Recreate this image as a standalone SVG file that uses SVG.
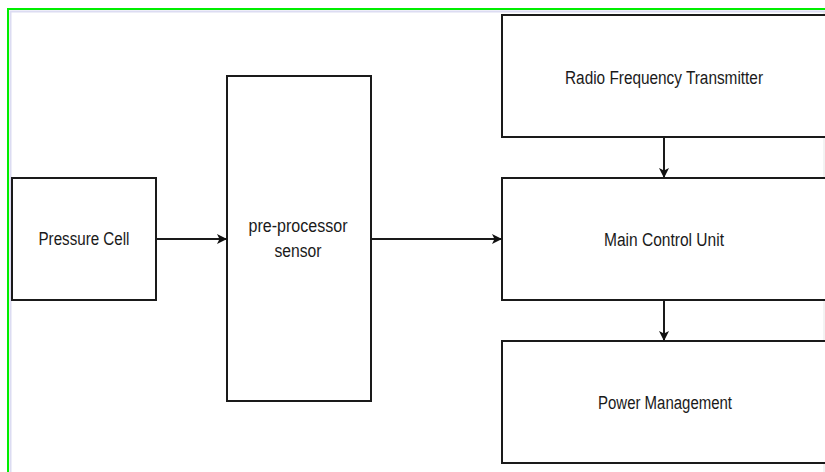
<svg xmlns="http://www.w3.org/2000/svg" width="825" height="472" viewBox="0 0 825 472">
<defs>
<style>
.box{fill:#fff;stroke:#1a1a1a;stroke-width:2}
.lbl{font-family:"Liberation Sans",Arial,sans-serif;font-size:18px;fill:#1a1a1a;text-anchor:middle;dominant-baseline:central}
.edge{stroke:#1a1a1a;stroke-width:2;fill:none}
</style>
<marker id="arr" viewBox="0 0 10 10" refX="9" refY="5" markerWidth="10" markerHeight="10" orient="auto" markerUnits="userSpaceOnUse">
<path d="M0,0 L10,5 L0,10 L2.5,5 Z" fill="#111"/>
</marker>
</defs>
<rect x="0" y="0" width="825" height="472" fill="#fff"/>
<path d="M8,480 V9 H830" fill="none" stroke="#00ee00" stroke-width="2"/>
<path d="M10.5,480 V11.5 H830" fill="none" stroke="#dcdcf2" stroke-width="2"/>
<line x1="824" y1="12" x2="824" y2="472" stroke="#e6e6e6" stroke-width="1"/>
<g id="pressure-cell">
<rect class="box" x="12" y="178" width="144" height="122"/>
<text class="lbl" x="84" y="239" textLength="91" lengthAdjust="spacingAndGlyphs">Pressure Cell</text>
</g>
<g id="pre-processor">
<rect class="box" x="227" y="76" width="144" height="325"/>
<text class="lbl" x="298" y="226" textLength="99" lengthAdjust="spacingAndGlyphs">pre-processor</text>
<text class="lbl" x="298" y="251" textLength="47" lengthAdjust="spacingAndGlyphs">sensor</text>
</g>
<g id="rf-transmitter">
<rect class="box" x="502" y="15" width="330" height="122"/>
<text class="lbl" x="664" y="78" textLength="198" lengthAdjust="spacingAndGlyphs">Radio Frequency Transmitter</text>
</g>
<g id="main-control">
<rect class="box" x="502" y="178" width="330" height="122"/>
<text class="lbl" x="664" y="240" textLength="120" lengthAdjust="spacingAndGlyphs">Main Control Unit</text>
</g>
<g id="power-management">
<rect class="box" x="502" y="341" width="330" height="122"/>
<text class="lbl" x="665" y="403" textLength="134" lengthAdjust="spacingAndGlyphs">Power Management</text>
</g>
<g id="connectors">
<line class="edge" x1="156" y1="239" x2="226" y2="239" marker-end="url(#arr)"/>
<line class="edge" x1="371" y1="239" x2="501" y2="239" marker-end="url(#arr)"/>
<line class="edge" x1="664" y1="137" x2="664" y2="177" marker-end="url(#arr)"/>
<line class="edge" x1="664" y1="300" x2="664" y2="340" marker-end="url(#arr)"/>
</g>
</svg>
